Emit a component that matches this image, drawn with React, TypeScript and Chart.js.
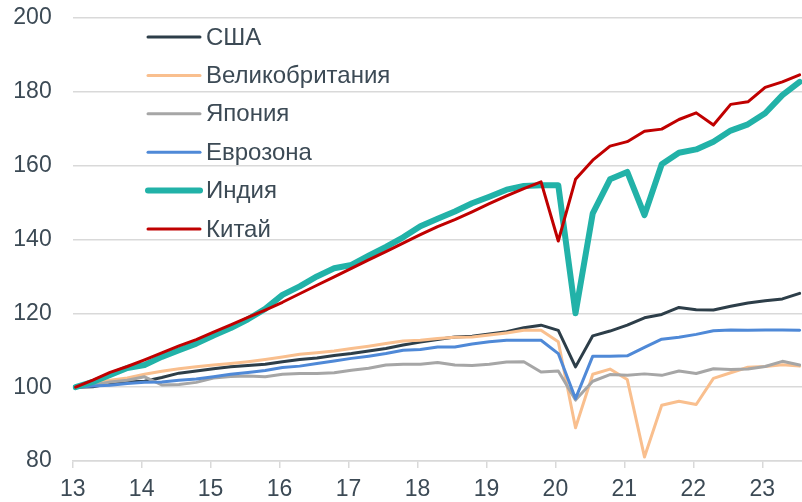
import React, { useEffect, useRef } from "react";
import { Chart, registerables } from "chart.js";

Chart.register(...registerables);

const quarters: string[] = [
  "2013-Q1", "2013-Q2", "2013-Q3", "2013-Q4",
  "2014-Q1", "2014-Q2", "2014-Q3", "2014-Q4",
  "2015-Q1", "2015-Q2", "2015-Q3", "2015-Q4",
  "2016-Q1", "2016-Q2", "2016-Q3", "2016-Q4",
  "2017-Q1", "2017-Q2", "2017-Q3", "2017-Q4",
  "2018-Q1", "2018-Q2", "2018-Q3", "2018-Q4",
  "2019-Q1", "2019-Q2", "2019-Q3", "2019-Q4",
  "2020-Q1", "2020-Q2", "2020-Q3", "2020-Q4",
  "2021-Q1", "2021-Q2", "2021-Q3", "2021-Q4",
  "2022-Q1", "2022-Q2", "2022-Q3", "2022-Q4",
  "2023-Q1", "2023-Q2", "2023-Q3",
];

const usa = [
  100, 100.1, 101.0, 101.4, 101.6, 102.6, 103.8, 104.4, 105.0, 105.5,
  105.9, 106.2, 106.9, 107.5, 107.9, 108.6, 109.1, 109.8, 110.5, 111.4,
  112.2, 112.9, 113.6, 113.8, 114.4, 115.0, 116.1, 116.8, 115.4, 105.5,
  113.9, 115.2, 116.8, 118.8, 119.7, 121.6, 121.0, 120.9, 121.9, 122.8,
  123.4, 123.9, 125.4,
];
const uk = [
  100, 101.2, 101.9, 102.5, 103.5, 104.3, 105.0, 105.5, 106.0, 106.4,
  106.9, 107.5, 108.2, 108.9, 109.3, 109.8, 110.5, 111.1, 111.8, 112.5,
  112.7, 113.2, 113.5, 113.6, 114.1, 114.7, 115.4, 115.4, 112.3, 89.0,
  103.5, 104.9, 102.1, 81.1, 95.1, 96.2, 95.3, 102.4, 103.9, 105.4,
  105.6, 106.1, 105.7,
];
const japan = [
  100, 100.5, 101.4, 101.9, 102.8, 100.6, 100.7, 101.3, 102.5, 102.9,
  103.0, 102.8, 103.5, 103.7, 103.7, 103.9, 104.6, 105.1, 106.0, 106.2,
  106.2, 106.7, 106.0, 105.9, 106.2, 106.8, 106.9, 104.1, 104.4, 96.5,
  101.6, 103.4, 103.2, 103.6, 103.2, 104.4, 103.7, 105.0, 104.8, 104.9,
  105.6, 107.0, 106.0,
];
const eurozone = [
  100, 100.3, 100.5, 101.0, 101.3, 101.4, 101.9, 102.2, 102.8, 103.5,
  104.0, 104.5, 105.3, 105.7, 106.4, 107.1, 107.8, 108.4, 109.1, 110.0,
  110.2, 110.9, 110.9, 111.7, 112.3, 112.7, 112.7, 112.7, 109.1, 96.9,
  108.4, 108.4, 108.5, 110.8, 113.0, 113.5, 114.3, 115.3, 115.5, 115.4,
  115.5, 115.5, 115.4,
];
const india = [
  100, 101.4, 103.3, 105.2, 106.0, 108.2, 110.0, 111.8, 114.0, 116.0,
  118.4, 121.2, 125.0, 127.3, 130.0, 132.2, 133.1, 135.6, 138.0, 140.6,
  143.6, 145.6, 147.6, 149.8, 151.6, 153.5, 154.5, 154.7, 154.7, 120.0,
  147.1, 156.3, 158.3, 146.6, 160.4, 163.5, 164.4, 166.5, 169.5, 171.2,
  174.2, 179.1, 182.7,
];
const china = [
  100, 101.9, 104.0, 105.6, 107.4, 109.3, 111.2, 112.9, 114.9, 116.9,
  118.9, 120.9, 123.0, 125.3, 127.6, 129.9, 132.2, 134.5, 136.7, 139.0,
  141.3, 143.5, 145.4, 147.5, 149.7, 151.8, 153.8, 155.6, 139.6, 156.3,
  161.5, 165.3, 166.5, 169.3, 169.9, 172.5, 174.3, 171.0, 176.6, 177.3,
  181.2, 182.7, 184.6,
];

const seriesNames = ["США", "Великобритания", "Япония", "Еврозона", "Индия", "Китай"];
const seriesData = [usa, uk, japan, eurozone, india, china];
const seriesColors = ["#2d3e49", "#f9bf8e", "#a6a6a6", "#4f89d7", "#22b2a8", "#c00000"];
const seriesWidths = [3, 3, 3, 3, 6, 3];

const xTickYears = [13, 14, 15, 16, 17, 18, 19, 20, 21, 22, 23];
const yTicks = [80, 100, 120, 140, 160, 180, 200];

const TEXT_COLOR = "#3c4a55";
const GRID_COLOR = "#d9d9d9";
const FONT_FAMILY = "'Liberation Sans', Arial, sans-serif";

// position of a quarter on the year axis (mid of the first month of the quarter)
function quarterToX(q: string): number {
  const [y, qq] = q.split("-Q");
  return Number(y) - 2000 + (Number(qq) - 1) / 4 + 1 / 24;
}

const legendPlugin = {
  id: "insideLegend",
  afterDatasetsDraw(chart: any) {
    const ctx = chart.ctx as CanvasRenderingContext2D;
    ctx.save();
    seriesNames.forEach((name, i) => {
      const y = 37 + i * 38.4;
      ctx.strokeStyle = seriesColors[i];
      ctx.lineWidth = seriesWidths[i];
      ctx.lineCap = "round";
      ctx.beginPath();
      ctx.moveTo(148, y);
      ctx.lineTo(200, y);
      ctx.stroke();
      ctx.fillStyle = TEXT_COLOR;
      ctx.font = `24px ${FONT_FAMILY}`;
      ctx.textAlign = "left";
      ctx.textBaseline = "middle";
      ctx.fillText(name, 206, y + 1);
    });
    ctx.restore();
  },
};

export default function App() {
  const canvasRef = useRef<HTMLCanvasElement | null>(null);

  useEffect(() => {
    const canvas = canvasRef.current;
    if (!canvas) return;
    const xs = quarters.map(quarterToX);
    const datasets = seriesNames.map((name, i) => ({
      label: name,
      data: seriesData[i].map((v, k) => ({ x: xs[k], y: v })),
      borderColor: seriesColors[i],
      backgroundColor: seriesColors[i],
      borderWidth: seriesWidths[i],
      pointRadius: 0,
      tension: 0,
      fill: false,
      borderCapStyle: "round" as const,
      borderJoinStyle: "round" as const,
      order: seriesNames.length - i,
    }));

    const chart = new Chart(canvas, {
      type: "line",
      data: { datasets },
      plugins: [legendPlugin],
      options: {
        animation: false,
        responsive: false,
        maintainAspectRatio: false,
        layout: { padding: { top: 18, right: 0, bottom: 0, left: 0 } },
        plugins: {
          legend: { display: false },
          tooltip: { enabled: false },
        },
        scales: {
          x: {
            type: "linear",
            min: 13,
            max: 23.576,
            afterBuildTicks: (scale: any) => {
              scale.ticks = xTickYears.map((v) => ({ value: v }));
            },
            afterFit: (scale: any) => {
              scale.height = 41;
            },
            grid: {
              drawOnChartArea: false,
              drawTicks: true,
              tickLength: 7,
              color: GRID_COLOR,
              lineWidth: 1.5,
            },
            border: { display: true, color: GRID_COLOR, width: 1.5 },
            ticks: {
              color: TEXT_COLOR,
              font: { size: 23, family: FONT_FAMILY },
              padding: 8,
              maxRotation: 0,
              autoSkip: false,
              callback: (v: any) => String(v),
            },
          },
          y: {
            type: "linear",
            min: 80,
            max: 200,
            afterBuildTicks: (scale: any) => {
              scale.ticks = yTicks.map((v) => ({ value: v }));
            },
            afterFit: (scale: any) => {
              scale.width = 72.7;
            },
            grid: {
              drawTicks: true,
              tickLength: 21,
              tickColor: "rgba(0,0,0,0)",
              color: GRID_COLOR,
              lineWidth: 1.5,
            },
            border: { display: false },
            ticks: {
              color: TEXT_COLOR,
              font: { size: 23, family: FONT_FAMILY },
              padding: 0,
              callback: (v: any) => String(v),
            },
          },
        },
      },
    });
    return () => chart.destroy();
  }, []);

  return (
    <div style={{ position: "fixed", left: 0, top: 0, width: 802, height: 502, background: "#ffffff" }}>
      <canvas ref={canvasRef} width={802} height={502} style={{ display: "block", width: 802, height: 502 }} />
    </div>
  );
}
